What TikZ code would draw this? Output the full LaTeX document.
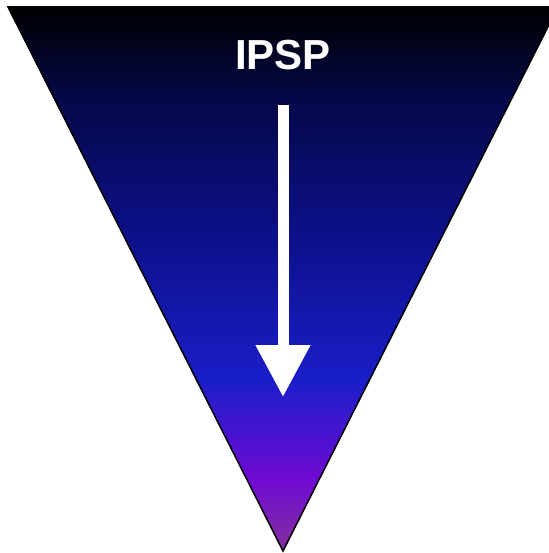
\documentclass[tikz,border=0pt]{standalone}
\usepackage{fontspec}
\setmainfont{Liberation Sans}
\usetikzlibrary{arrows.meta,positioning}
\definecolor{deepnavy}{RGB}{5, 8, 72}
\definecolor{midblue}{RGB}{12, 16, 135}
\definecolor{brightblue}{RGB}{26, 30, 200}
\definecolor{violet}{RGB}{112, 10, 212}
\definecolor{plum}{RGB}{132, 48, 158}
\pgfdeclareverticalshading{funnel}{100bp}{color(0bp)=(plum); color(25bp)=(plum); color(31.5bp)=(violet); color(40.7bp)=(brightblue); color(54.5bp)=(midblue); color(66.5bp)=(deepnavy); color(75bp)=(black); color(100bp)=(black)}

\begin{document}
\begin{tikzpicture}[x=1pt, y=-1pt, every node/.style={text=white, font=\bfseries\fontsize{42}{42}\selectfont}]
    \useasboundingbox (0,0) rectangle (548,553);
    \shade[shading=funnel, draw=black, line width=1.5pt] (8,7) -- (558,7) -- (283,551) -- cycle;

    \node (lbl) at (283,55) {IPSP};
    \coordinate (top) at (283,105);
    \coordinate (tip) at (283,397);
    \draw[white, line width=11pt, -{Triangle[width=52pt, length=52pt]}] (top) -- (tip);
\end{tikzpicture}
\end{document}
